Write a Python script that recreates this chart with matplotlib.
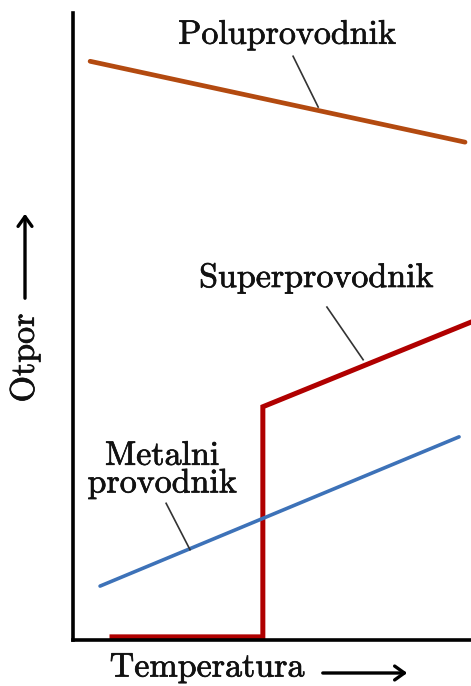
import matplotlib
matplotlib.use("Agg")
import matplotlib.pyplot as plt
import matplotlib.patheffects as pe

# Data (arbitrary units)
polu_x = [0.43, 9.85]
polu_y = [9.23, 7.94]
super_x = [0.98, 4.77, 4.77, 10.0]
super_y = [0.05, 0.05, 3.72, 5.07]
metal_x = [0.68, 9.70]
metal_y = [0.86, 3.24]

labels = ["Poluprovodnik", "Superprovodnik", "Metalni\nprovodnik"]
xlabel = "Temperatura"
ylabel = "Otpor"

W, H = 471, 686
fig = plt.figure(figsize=(W / 100, H / 100), dpi=100)
ax = fig.add_axes([73 / W, (H - 640) / H, (471 - 73) / W, (640 - 13) / H])
ax.set_xlim(0, 10)
ax.set_ylim(0, 10)
for s in ["top", "right"]:
    ax.spines[s].set_visible(False)
for s in ["left", "bottom"]:
    ax.spines[s].set_linewidth(2.6)
    ax.spines[s].set_color("black")
ax.set_xticks([])
ax.set_yticks([])

ax.plot(polu_x, polu_y, color="#b34a10", lw=3.4, solid_capstyle="round", clip_on=False)
ax.plot(super_x, super_y, color="#b00000", lw=3.6, solid_joinstyle="miter", clip_on=False)
ax.plot(metal_x, metal_y, color="#3d72b8", lw=2.6, solid_capstyle="round", clip_on=False)

stroke = [pe.withStroke(linewidth=0.5, foreground="#111111")]
font = dict(family="cmr10", fontsize=24.5, color="#111111", path_effects=stroke)
ax.text(5.38, 9.65, labels[0], ha="center", va="center", **font)
ax.plot([5.53, 6.16], [9.31, 8.50], color="#333333", lw=1.2)
ax.text(6.11, 5.77, labels[1], ha="center", va="center", **font)
ax.plot([6.38, 7.29], [5.31, 4.47], color="#333333", lw=1.2)
ax.text(2.24, 2.71, labels[2], ha="center", va="center", linespacing=0.92, **font)
ax.plot([2.34, 2.94], [2.18, 1.44], color="#333333", lw=1.2)

# axis labels with arrows
fig.text(207 / W, 1 - 668 / H, xlabel, ha="center", va="center", **font)
fig.add_artist(matplotlib.patches.FancyArrowPatch(
    (320 / W, 1 - 673 / H), (410 / W, 1 - 673 / H), transform=fig.transFigure,
    arrowstyle="->,head_width=5,head_length=7", lw=2.4, color="black",
    mutation_scale=1))
fig.text(25 / W, 1 - 358 / H, ylabel, ha="center", va="center", rotation=90, **font)
fig.add_artist(matplotlib.patches.FancyArrowPatch(
    (25 / W, 1 - 301 / H), (25 / W, 1 - 211 / H), transform=fig.transFigure,
    arrowstyle="->,head_width=5,head_length=7", lw=2.4, color="black",
    mutation_scale=1))

fig.savefig("out.png", dpi=100)
